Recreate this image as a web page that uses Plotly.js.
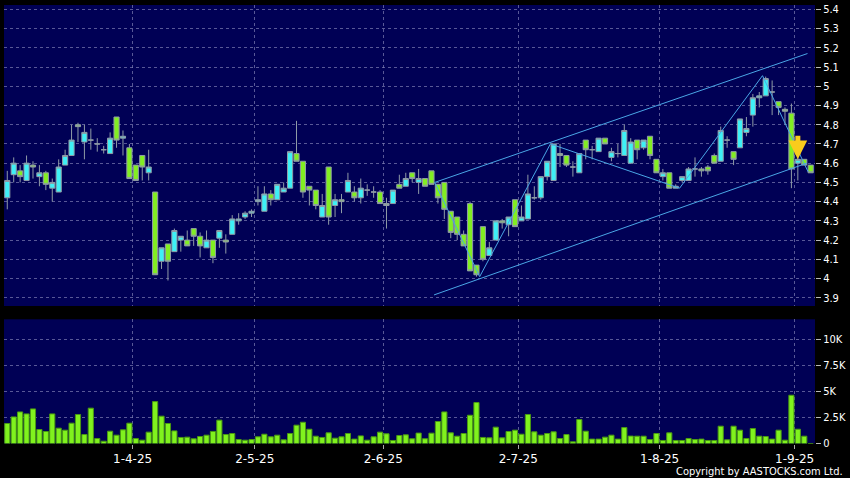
<!DOCTYPE html>
<html>
<head>
<meta charset="utf-8">
<script src="https://cdn.plot.ly/plotly-3.0.1.min.js"></script>
<style>
  html, body { margin: 0; padding: 0; background: #000; }
  #chart { width: 850px; height: 478px; }
</style>
</head>
<body>
<div id="chart"></div>
<script>
// ---- Data (daily candles, 5 Mar 2025 .. 4 Sep 2025) ----
const openP = [4.42,4.54,4.56,4.51,4.59,4.53,4.55,4.47,4.45,4.59,
  4.64,4.80,4.71,4.72,4.70,4.67,4.65,4.84,4.73,4.68,
  4.59,4.64,4.55,4.45,4.09,4.18,4.14,4.20,4.20,4.26,
  4.22,4.16,4.20,4.21,4.20,4.23,4.30,4.32,4.34,4.40,
  4.35,4.44,4.41,4.45,4.47,4.65,4.61,4.48,4.46,4.32,
  4.58,4.38,4.41,4.45,4.45,4.42,4.46,4.45,4.45,4.39,
  4.39,4.49,4.48,4.55,4.50,4.52,4.56,4.49,4.50,4.35,
  4.32,4.23,4.39,4.07,4.27,4.12,4.20,4.30,4.28,4.41,
  4.30,4.31,4.42,4.42,4.53,4.51,4.65,4.64,4.58,4.55,
  4.72,4.67,4.66,4.73,4.63,4.65,4.64,4.60,4.72,4.68,
  4.74,4.62,4.53,4.55,4.47,4.51,4.51,4.57,4.57,4.58,
  4.64,4.61,4.72,4.66,4.68,4.76,4.85,4.94,4.95,4.97,
  4.92,4.88,4.86,4.60,4.62,4.59];
const highP = [4.56,4.63,4.59,4.64,4.61,4.59,4.56,4.52,4.62,4.67,
  4.80,4.81,4.80,4.78,4.73,4.69,4.76,4.84,4.77,4.70,
  4.59,4.64,4.67,4.45,4.16,4.18,4.26,4.22,4.25,4.26,
  4.24,4.25,4.20,4.25,4.23,4.33,4.34,4.35,4.36,4.48,
  4.48,4.46,4.49,4.50,4.66,4.82,4.61,4.48,4.46,4.44,
  4.58,4.44,4.44,4.55,4.48,4.52,4.49,4.48,4.46,4.42,
  4.46,4.54,4.55,4.55,4.57,4.52,4.56,4.49,4.50,4.35,
  4.32,4.25,4.40,4.07,4.27,4.19,4.30,4.31,4.32,4.41,
  4.38,4.54,4.48,4.53,4.61,4.70,4.70,4.64,4.61,4.65,
  4.72,4.69,4.73,4.73,4.68,4.70,4.80,4.73,4.72,4.72,
  4.74,4.62,4.57,4.55,4.49,4.53,4.58,4.63,4.58,4.59,
  4.65,4.79,4.74,4.66,4.83,4.84,4.96,4.97,5.05,5.03,
  4.92,4.89,4.91,4.63,4.62,4.59];
const lowP = [4.36,4.50,4.50,4.51,4.52,4.48,4.46,4.40,4.45,4.59,
  4.64,4.71,4.62,4.67,4.66,4.65,4.65,4.68,4.64,4.52,
  4.51,4.51,4.51,4.02,4.05,3.99,4.14,4.14,4.17,4.17,
  4.11,4.16,4.08,4.16,4.13,4.23,4.28,4.31,4.32,4.38,
  4.35,4.38,4.41,4.45,4.47,4.61,4.42,4.38,4.36,4.32,
  4.28,4.32,4.34,4.45,4.40,4.39,4.43,4.42,4.39,4.26,
  4.39,4.47,4.48,4.50,4.44,4.48,4.49,4.39,4.31,4.21,
  4.20,4.17,4.04,4.01,4.09,4.12,4.20,4.26,4.22,4.27,
  4.30,4.31,4.41,4.41,4.51,4.51,4.58,4.58,4.53,4.55,
  4.62,4.62,4.66,4.70,4.61,4.63,4.64,4.60,4.62,4.67,
  4.62,4.55,4.51,4.47,4.47,4.50,4.51,4.53,4.53,4.54,
  4.60,4.61,4.68,4.59,4.68,4.74,4.79,4.89,4.95,4.85,
  4.85,4.80,4.47,4.51,4.59,4.55];
const closeP = [4.51,4.60,4.53,4.60,4.58,4.55,4.49,4.50,4.58,4.64,
  4.72,4.79,4.76,4.72,4.70,4.67,4.73,4.72,4.74,4.52,
  4.51,4.58,4.58,4.02,4.16,4.09,4.25,4.22,4.17,4.22,
  4.17,4.20,4.11,4.25,4.19,4.31,4.31,4.34,4.35,4.41,
  4.44,4.41,4.49,4.47,4.66,4.61,4.45,4.46,4.38,4.38,
  4.32,4.41,4.40,4.51,4.42,4.47,4.46,4.45,4.39,4.38,
  4.46,4.47,4.52,4.52,4.52,4.48,4.49,4.42,4.36,4.24,
  4.23,4.17,4.04,4.02,4.10,4.16,4.30,4.29,4.32,4.27,
  4.32,4.44,4.42,4.53,4.61,4.70,4.64,4.59,4.58,4.65,
  4.67,4.67,4.73,4.70,4.66,4.65,4.77,4.71,4.67,4.72,
  4.64,4.55,4.55,4.47,4.48,4.53,4.57,4.57,4.56,4.56,
  4.60,4.77,4.72,4.62,4.83,4.78,4.94,4.95,5.04,4.97,
  4.89,4.87,4.57,4.62,4.59,4.55];
const volume = [1920,2550,3030,2840,3320,1340,1150,2840,1470,1280,
  1950,2780,860,3390,480,220,1180,800,1310,1950,
  480,320,1090,4020,2620,1920,1210,580,610,450,
  670,800,1160,2240,860,960,380,320,380,640,
  890,640,800,350,960,1760,2040,1370,700,580,
  1020,510,640,960,420,730,320,640,1090,930,
  290,770,830,450,1000,460,990,2110,3030,1020,
  700,960,2710,3930,580,540,1570,540,1150,1280,
  890,2780,1120,800,960,1120,480,860,160,2300,
  1180,420,420,610,800,420,1530,710,700,700,
  380,960,290,1020,290,290,480,380,420,290,
  290,1660,350,1660,1280,480,1440,700,670,420,
  1280,320,4630,1370,700,0];

// x-axis labels (d-m-yy) and the candle index of each labelled trading day
const tickLabels = ['1-4-25','2-5-25','2-6-25','2-7-25','1-8-25','1-9-25'];
const tickIndex  = [19, 38, 58, 79, 101, 122];

// price axis ticks and volume axis ticks
const priceTicks = [3.9,4.0,4.1,4.2,4.3,4.4,4.5,4.6,4.7,4.8,4.9,5.0,5.1,5.2,5.3,5.4];
const volTicks = [0, 2500, 5000, 7500, 10000];
const volTickText = ['0', '2.5K', '5K', '7.5K', '10K'];

// drawn trend lines (candle index, price)
const zigzagX = [66.5, 73.5, 84.5, 104.6, 117.5, 124.6];
const zigzagY = [4.50, 4.01, 4.70, 4.47, 5.055, 4.555];
const upperX = [66.5, 124.5];
const upperY = [4.50, 5.17];
const lowerX = [66.4, 124.4];
const lowerY = [3.915, 4.60];

// signal arrow
const signalIndex = 123;
const signalPrice = 4.62;

// ---- Chart ----
const idx = openP.map((_, i) => i);
const trendColor = '#4aa6e6';
const gridColor = 'rgba(125,125,180,0.7)';
const font = 'DejaVu Sans Condensed, DejaVu Sans, sans-serif';

const traces = [
  {
    type: 'candlestick', x: idx, open: openP, high: highP, low: lowP, close: closeP,
    xaxis: 'x', yaxis: 'y',
    increasing: { fillcolor: '#3ef0f6', line: { color: '#8f9ba6', width: 1 } },
    decreasing: { fillcolor: '#82ee22', line: { color: '#8f9ba6', width: 1 } },
    whiskerwidth: 0, hoverinfo: 'skip', showlegend: false
  },
  { type: 'scatter', mode: 'lines', x: upperX, y: upperY, xaxis: 'x', yaxis: 'y',
    line: { color: trendColor, width: 1 }, hoverinfo: 'skip', showlegend: false },
  { type: 'scatter', mode: 'lines', x: lowerX, y: lowerY, xaxis: 'x', yaxis: 'y',
    line: { color: trendColor, width: 1 }, hoverinfo: 'skip', showlegend: false },
  { type: 'scatter', mode: 'lines', x: zigzagX, y: zigzagY, xaxis: 'x', yaxis: 'y',
    line: { color: trendColor, width: 1 }, hoverinfo: 'skip', showlegend: false },
  {
    type: 'bar', x: idx, y: volume, xaxis: 'x', yaxis: 'y2',
    marker: { color: '#80f21e', line: { color: '#4a9a12', width: 1 } },
    hoverinfo: 'skip', showlegend: false
  }
];

const H = 478;
const layout = {
  width: 850, height: H,
  margin: { l: 4, r: 35, t: 0, b: 0 },
  paper_bgcolor: '#000000',
  plot_bgcolor: '#000055',
  showlegend: false,
  hovermode: false,
  bargap: 0.2,
  boxmode: 'overlay',
  boxgap: 0.2,
  boxgroupgap: 0,
  xaxis: {
    anchor: 'y2',
    range: [-0.51, 125.67],
    tickvals: tickIndex.map(i => i + 0.5),
    ticktext: tickLabels,
    ticks: 'outside', ticklen: 4, tickcolor: '#aaaaaa', tickwidth: 1,
    tickfont: { family: 'DejaVu Sans, sans-serif', size: 12, color: '#ffffff' },
    showgrid: true, gridcolor: gridColor, griddash: '3px,3px', gridwidth: 1,
    zeroline: false, showline: false,
    rangeslider: { visible: false },
    fixedrange: true
  },
  yaxis: {
    domain: [1 - 306 / H, 1 - 5 / H],
    range: [3.8574, 5.4224],
    side: 'right',
    tickvals: priceTicks,
    ticks: 'outside', ticklen: 5, tickcolor: '#bbbbbb', tickwidth: 1,
    tickfont: { family: font, size: 11, color: '#ffffff' },
    showgrid: true, gridcolor: gridColor, griddash: '3px,3px', gridwidth: 1,
    zeroline: false, showline: false, fixedrange: true
  },
  yaxis2: {
    domain: [1 - 443.5 / H, 1 - 319.3 / H],
    range: [0, 11916],
    side: 'right',
    tickvals: volTicks, ticktext: volTickText,
    ticks: 'outside', ticklen: 5, tickcolor: '#bbbbbb', tickwidth: 1,
    tickfont: { family: font, size: 11, color: '#ffffff' },
    showgrid: true, gridcolor: gridColor, griddash: '3px,3px', gridwidth: 1,
    zeroline: false, showline: false, fixedrange: true
  },
  annotations: [
    {
      x: signalIndex, y: signalPrice, xref: 'x', yref: 'y',
      showarrow: true, ax: 0, ay: -25, axref: 'pixel', ayref: 'pixel',
      arrowhead: 2, arrowsize: 0.75, arrowwidth: 5, arrowcolor: '#f9cc1c',
      text: ''
    },
    {
      text: 'Copyright by AASTOCKS.com Ltd.',
      xref: 'paper', yref: 'paper', x: 1 + 30 / 811, y: 7 / H,
      xanchor: 'right', yanchor: 'middle', showarrow: false,
      font: { family: font, size: 11, color: '#ffffff' }
    }
  ]
};

Plotly.newPlot('chart', traces, layout, { displayModeBar: false, staticPlot: true });
</script>
</body>
</html>
